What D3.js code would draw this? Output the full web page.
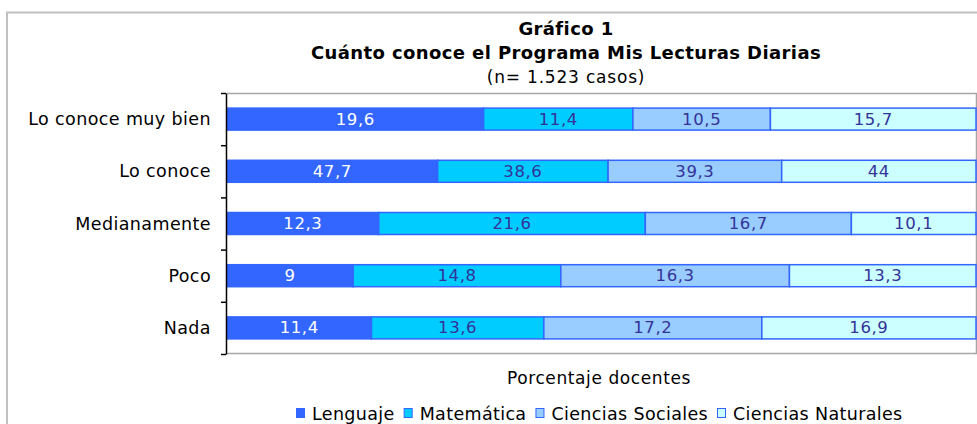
<!DOCTYPE html>
<html><head><meta charset="utf-8">
<script src="https://cdn.jsdelivr.net/npm/d3@7"></script>
<style>
html,body{margin:0;padding:0;background:#fff;}
svg{display:block;font-family:"DejaVu Sans",Verdana,sans-serif;}
</style></head>
<body>
<svg id="c" width="977" height="424"></svg>
<script>
const categories = ["Lo conoce muy bien","Lo conoce","Medianamente","Poco","Nada"];
const seriesNames = ["Lenguaje","Matemática","Ciencias Sociales","Ciencias Naturales"];
const lenguaje   = [19.6, 47.7, 12.3, 9, 11.4];
const matematica = [11.4, 38.6, 21.6, 14.8, 13.6];
const sociales   = [10.5, 39.3, 16.7, 16.3, 17.2];
const naturales  = [15.7, 44, 10.1, 13.3, 16.9];
const titleLines = ["Gráfico 1","Cuánto conoce el Programa Mis Lecturas Diarias","(n= 1.523 casos)"];
const xTitle = "Porcentaje docentes";

const fills = ["#3366FF","#00CCFF","#99CCFF","#CCFFFF"];
const labelColors = ["#FFFFFF","#333399","#333399","#333399"];
const seriesVals = [lenguaje, matematica, sociales, naturales];

const rows = categories.map((c,i)=>{const o={cat:c}; seriesNames.forEach((s,j)=>o[s]=seriesVals[j][i]); return o;});
const stack = d3.stack().keys(seriesNames).offset(d3.stackOffsetExpand);
const layers = stack(rows);

const svg = d3.select("#c");
const L=227, R=976, T=93, B=354;

// outer frame
svg.append("path").attr("d","M7,430 V12.5 H990").attr("fill","none").attr("stroke","#c0c0c0").attr("stroke-width",2);

const x = d3.scaleLinear().domain([0,1]).range([L,R]);
const y = d3.scaleBand().domain(categories).range([T,B]).padding(0);
const yb = d3.scaleLinear().domain([0,categories.length]).range([T,B]);
const barH = 22;

// plot border (gray)
svg.append("path").attr("d",`M${L},${T+0.5} H${R+0.5} V${B-0.5} H${L}`).attr("fill","none").attr("stroke","#a6a6a6").attr("stroke-width",1.5);

const g = svg.append("g");
layers.forEach((layer,j)=>{
  const gg = g.append("g");
  gg.selectAll("rect").data(layer).join("rect")
    .attr("x",d=>x(d[0])).attr("width",d=>x(d[1])-x(d[0]))
    .attr("y",d=>y(d.data.cat)+(y.bandwidth()-barH)/2).attr("height",barH)
    .attr("fill",fills[j]).attr("stroke","#3366FF").attr("stroke-width",1.5);
  gg.selectAll("text").data(layer).join("text")
    .attr("x",d=>(x(d[0])+x(d[1]))/2).attr("y",d=>y(d.data.cat)+y.bandwidth()/2+5.5)
    .attr("text-anchor","middle").attr("font-size",16.5).attr("letter-spacing",0.6).attr("fill",labelColors[j])
    .text(d=>String(d.data[layer.key]).replace(".",","));
});

// y axis
const ax = svg.append("g").attr("transform",`translate(${L-1},0)`)
  .call(d3.axisLeft(yb).tickValues(d3.range(categories.length+1)).tickFormat("").tickSize(5).tickSizeOuter(0));
ax.select(".domain").attr("stroke","#000").attr("stroke-width",1.5);
ax.selectAll(".tick line").attr("stroke","#000").attr("stroke-width",1.5);

svg.append("g").selectAll("text").data(categories).join("text")
  .attr("x",211).attr("y",d=>y(d)+y.bandwidth()/2+6)
  .attr("text-anchor","end").attr("font-size",17.5).attr("letter-spacing",0.4).attr("fill","#000").text(d=>d);

// titles
const tx = 566;
svg.append("text").attr("x",tx).attr("y",34.5).attr("text-anchor","middle").attr("font-size",18).attr("letter-spacing",0.4).attr("font-weight","bold").text(titleLines[0]);
svg.append("text").attr("x",tx).attr("y",58.5).attr("text-anchor","middle").attr("font-size",18).attr("letter-spacing",0.4).attr("font-weight","bold").text(titleLines[1]);
svg.append("text").attr("x",tx).attr("y",82.5).attr("text-anchor","middle").attr("font-size",17).attr("letter-spacing",0.8).text(titleLines[2]);

svg.append("text").attr("x",599).attr("y",384).attr("text-anchor","middle").attr("font-size",17).attr("letter-spacing",0.6).text(xTitle);

// legend
const lg = svg.append("g");
let lx = 296;
seriesNames.forEach((s,j)=>{
  lg.append("rect").attr("x",lx+0.5).attr("y",408.5).attr("width",8).attr("height",9).attr("fill",fills[j]).attr("stroke","#3366FF").attr("stroke-width",1);
  const t = lg.append("text").attr("x",lx+16).attr("y",419.5).attr("font-size",17.5).attr("letter-spacing",0.35).text(s);
  lx += 16 + t.node().getComputedTextLength() + 9;
});
</script>
</body></html>
